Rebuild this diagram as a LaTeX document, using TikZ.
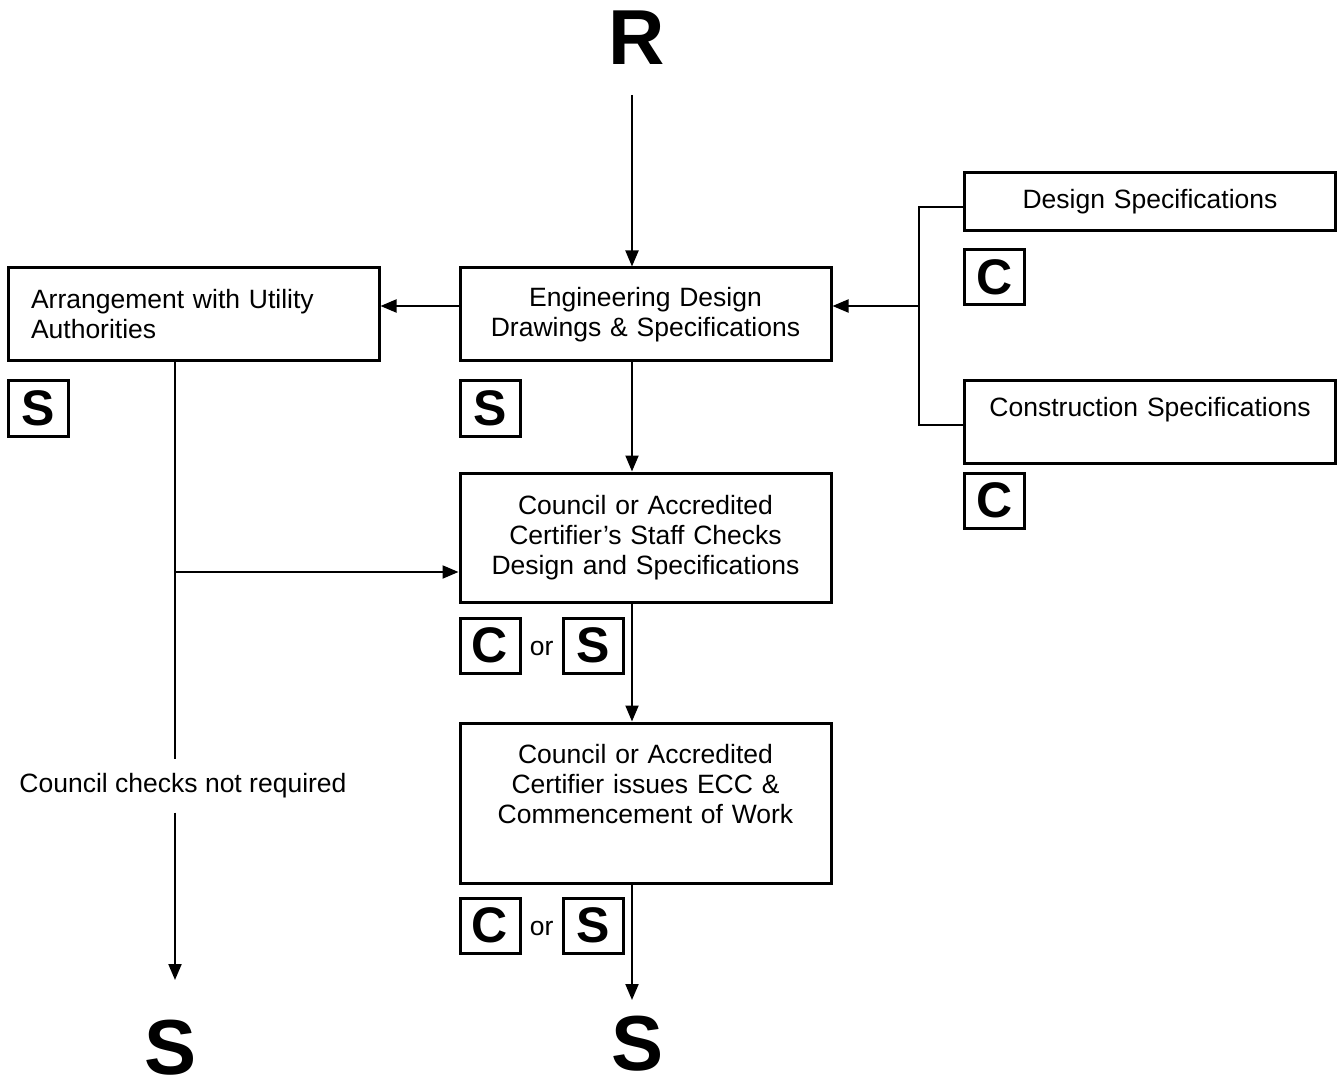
\documentclass[tikz,border=0pt]{standalone}
\usepackage{fontspec}
\setmainfont{Liberation Sans}
\usetikzlibrary{arrows.meta,positioning}

\begin{document}
\begin{tikzpicture}[
    x=1pt, y=-1pt,
    font=\fontsize{26.5}{30}\selectfont,
    stage/.style={draw, line width=3pt, align=center, text width=325pt, inner xsep=23pt, inner ysep=0pt},
    badge/.style={draw, line width=3pt, minimum width=60pt, minimum height=55pt, inner sep=0pt, font=\bfseries\fontsize{50}{50}\selectfont},
    bigletter/.style={inner sep=0pt, font=\bfseries\fontsize{78}{78}\selectfont},
    arrow/.style={-{Triangle[length=16pt,width=13pt]}, line width=2pt},
    link/.style={line width=2pt},
    bracket/.style={line width=1.5pt}
]
\useasboundingbox (0,0) rectangle (1342,1091);

\node[bigletter] (rtop) at (637,38) {R};
\node[stage, minimum height=93pt] (eng) at (645.5,314.5) {Engineering Design\\Drawings \& Specifications};
\node[stage, align=left, minimum height=93pt] (utility) at (193.5,314.5) {Arrangement with Utility\\Authorities};
\node[stage, minimum height=58pt] (dspec) at (1150,202) {Design Specifications};
\node[stage, minimum height=82pt] (cspec) at (1150,422) {Construction Specifications\\\mbox{}};
\node[stage, minimum height=129pt] (check) at (645.5,537.5) {Council or Accredited\\Certifier’s Staff Checks\\Design and Specifications};
\node[stage, minimum height=160pt] (issue) at (645.5,803) {Council or Accredited\\Certifier issues ECC \&\\Commencement of Work\\[8pt]\mbox{}};

% responsibility badges
\node[badge, below=17pt of utility.south west, anchor=north west] (utilS) {S};
\node[badge, below=17pt of eng.south west, anchor=north west] (engS) {S};
\node[badge, below=16pt of dspec.south west, anchor=north west] (dspecC) {C};
\node[badge, below=7pt of cspec.south west, anchor=north west] (cspecC) {C};
\node[badge, below=13pt of check.south west, anchor=north west] (checkC) {C};
\node[inner xsep=8.25pt, right=0pt of checkC, yshift=-3pt] (checkor) {or};
\node[badge, right=0pt of checkC.east, xshift=40pt, anchor=west] (checkS) {S};
\node[badge, below=12pt of issue.south west, anchor=north west] (issueC) {C};
\node[inner xsep=8.25pt, right=0pt of issueC, yshift=-3pt] (issueor) {or};
\node[badge, right=0pt of issueC.east, xshift=40pt, anchor=west] (issueS) {S};

\node[inner ysep=14pt] (skip) at (183,786) {Council checks not required};
\node[bigletter] (leftS) at (171,1048) {S};
\node[bigletter] (endS) at (638,1044) {S};

\coordinate (spine) at (632,0);
\coordinate (rtail) at (632,95);
\coordinate (hub) at (919,306);
\coordinate (branch) at (175,572);
\coordinate (leftend) at (175,980);
\coordinate (midend) at (632,1000);

% main column
\draw[arrow] (rtail) -- (spine |- eng.north);
\draw[arrow] (spine |- eng.south) -- (spine |- check.north);
\draw[arrow] (spine |- check.south) -- (spine |- issue.north);
\draw[arrow] (spine |- issue.south) -- (midend);

% specifications feed
\draw[bracket] ([yshift=-5pt]dspec.west) -| (hub) |- ([yshift=-3pt]cspec.west);
\draw[arrow] (hub) -- (hub -| eng.east);
\draw[arrow] (hub -| eng.west) -- (hub -| utility.east);

% utility branch
\draw[link] (branch |- utility.south) -- (branch |- skip.north);
\draw[arrow] (branch) -- (branch -| check.west);
\draw[arrow] (branch |- skip.south) -- (leftend);
\end{tikzpicture}
\end{document}
